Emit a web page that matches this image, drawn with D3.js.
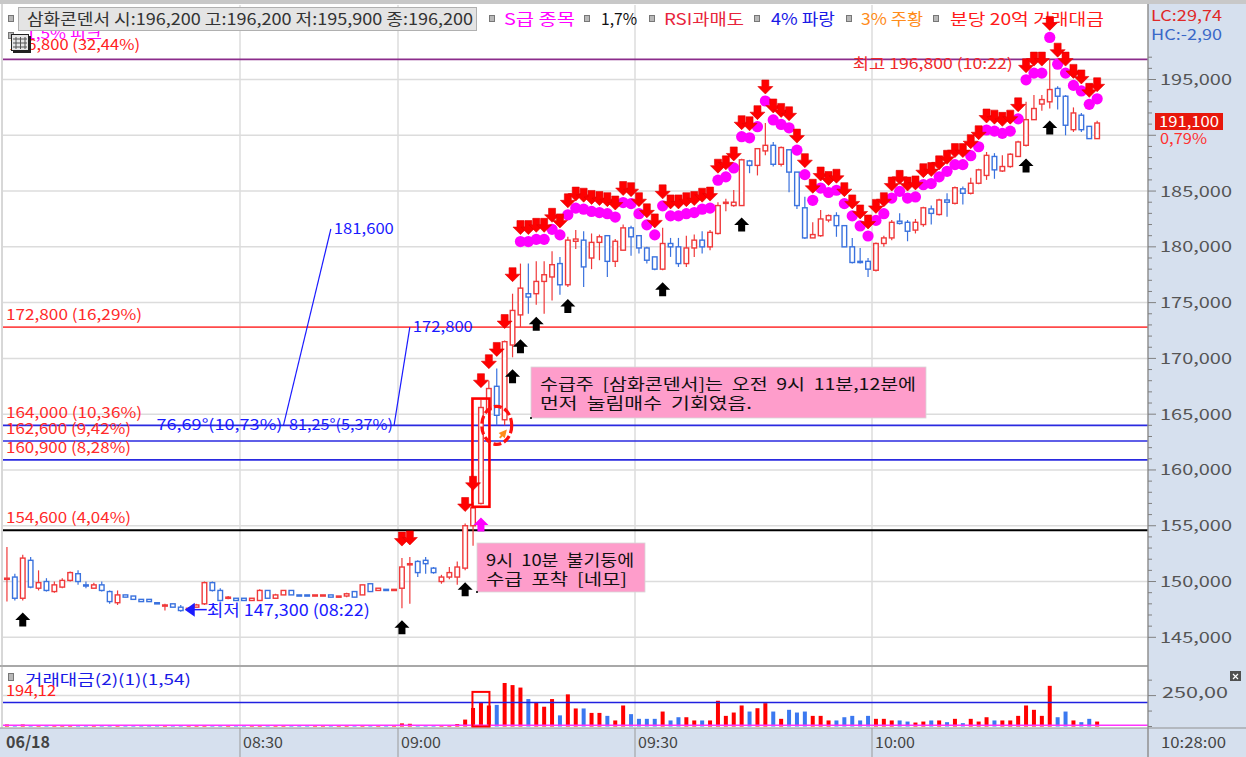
<!DOCTYPE html>
<html>
<head>
<meta charset="utf-8">
<script src="https://cdn.jsdelivr.net/npm/d3@7"></script>
<style>
body{margin:0;background:#fff;}
svg{display:block;font-family:"Noto Sans CJK KR","DejaVu Sans",sans-serif;}
text{white-space:pre;}
</style>
</head>
<body>
<svg id="chart" width="1246" height="757"></svg>
<script>
// 1 minute candles, pre-market 08:00-08:49 then 09:00-10:28  [open, high, low, close]
var preOHLC = [
  [150200,153100,148200,150300],[150400,150700,148300,148500],[148500,152400,148300,152100],[151900,152200,149400,149500],
  [149400,151000,149200,149900],[150000,150300,149100,149200],[149100,150000,149000,149700],[149500,150300,149400,150100],
  [150100,150900,150000,150800],[150700,151000,149700,150000],[149700,150000,149400,149600],[149400,149900,149400,149700],
  [149700,150000,149100,149200],[149100,149200,148000,148200],[148100,149200,147900,148800],[148800,148800,148600,148600],
  [148700,148700,148400,148400],[148400,148400,148200,148200],[148400,148400,148200,148200],[148100,148100,148000,148000],
  [147800,148000,147400,147900],[148000,148000,147700,147700],[147700,147900,147300,147400],[147500,147700,147400,147600],
  [147700,148000,147700,147900],[148000,150000,147900,149900],[149900,150000,149100,149200],[149200,149400,148200,148300],
  [148500,148700,148400,148600],[148500,148500,148300,148300],[148500,148500,148300,148300],[148300,148500,148300,148500],
  [148300,149300,148300,149200],[149200,149200,148500,148500],[148500,148900,148500,148800],[148800,149200,148800,149200],
  [149200,149200,148800,148800],[148800,148800,148700,148700],[148800,148800,148700,148700],[148700,148800,148700,148800],
  [148700,148800,148700,148800],[148800,148800,148600,148600],[148600,148700,148600,148700],[148700,149000,148600,148900],
  [149100,149100,148600,148600],[148800,149700,148800,149700],[149800,149800,149100,149100],[149200,149400,149200,149400],
  [149300,149300,149200,149200],[149200,149300,149200,149300]
];
var regOHLC = [
  [149400,152100,147600,151300],[151500,152200,148000,151600],[151800,151900,150400,150800],[151900,152200,150700,151600],
  [151200,151300,150700,150800],[150000,150600,149800,150400],[150400,151300,150200,150800],[150400,151800,149700,151300],
  [151200,155200,151000,155000],[155000,157100,153200,156600],[157000,166300,156900,165600],[165400,168000,164100,167300],
  [167500,169100,164000,164900],[164500,171600,164000,171500],[171200,175800,170100,174300],[173900,178500,172800,176300],
  [175800,178500,174000,175500],[175800,178700,174800,176900],[176900,178700,174000,177500],[177300,179600,175200,178400],
  [178500,179100,175700,176600],[176600,180900,176400,180600],[180500,181500,179800,180700],[180600,181400,176400,178200],
  [179000,181200,178000,180400],[180400,181100,178800,180900],[181000,181000,177300,178700],[178700,180700,178200,180500],
  [179700,182000,179700,181700],[181700,181900,179200,180900],[181000,181000,179400,179900],[179900,180000,178500,178800],
  [179100,179100,177900,178000],[178000,181700,177900,180300],[180300,180800,179100,180000],[180000,180800,178200,178500],
  [178500,181000,178200,179900],[179900,181100,179100,180600],[180600,181400,179400,180000],[180000,181500,179700,181300],
  [181200,184000,181100,183700],[183900,184300,183200,184000],[183700,185100,183600,184000],[183700,187900,183700,187800],
  [187700,187800,186600,187300],[187300,188800,186400,188800],[188600,191100,188200,189100],[189100,189400,187200,187400],
  [187400,189000,187200,188900],[188700,188700,184900,186700],[186700,186700,183400,183700],[183500,184500,180700,180800],
  [180800,182200,180800,181100],[181000,183300,180900,182500],[182400,182900,182200,182800],[182800,183100,180900,181900],
  [181900,181900,180000,180000],[180000,180800,178500,178600],[178700,179900,178500,178600],[178700,179000,177300,178000],
  [177900,180400,177800,180300],[180300,181000,180000,180800],[180800,182400,180600,182200],[182300,183000,182000,182100],
  [182200,182400,180500,181400],[181500,182500,181200,182200],[182000,183600,181800,183500],[183400,183700,182000,183000],
  [182900,184300,182800,184200],[184200,184800,182700,184000],[183900,185400,183800,185300],[185200,185400,183800,184800],
  [184800,186200,184700,185700],[185700,187000,185600,186900],[186400,188500,186000,188200],[188100,188400,186100,186900],
  [186800,188200,186700,187200],[187200,188400,187100,188300],[188100,189500,188100,189400],[189100,193000,189000,191400],
  [191400,193600,191400,192400],[192800,193600,192200,193200],[193000,196800,192400,194100],[194200,194400,192300,193500],
  [193500,193600,190000,190900],[190500,192500,190300,192000],[191800,192000,190300,190500],[190800,190800,189700,189700],
  [189700,191300,189700,191100]
];
// 거래대금 (억)
var preVol = [16,12,16,12,9,9,9,10,9,9,8,8,8,10,10,8,8,8,8,8,8,8,8,8,8,12,10,10,8,8,8,8,10,10,8,8,8,8,8,8,8,8,8,8,8,10,10,8,8,8];
var regVol = [25,22,8,8,8,10,12,20,56,150,190,170,175,352,335,315,222,190,160,222,90,260,146,146,110,110,
  86,49,170,100,62,62,62,121,49,75,75,49,49,49,208,86,113,170,121,148,189,121,62,135,113,121,86,86,49,49,75,86,49,86,
  62,62,49,49,40,32,40,49,49,35,62,27,62,40,75,49,49,49,86,170,135,86,329,75,121,49,35,62,40];

// signals
var buyTimes = ['08:02','09:00','09:08','09:14','09:15','09:17','09:21','09:33','09:43','10:19','10:22'];
var sellFrom = '09:08', sellExtra = ['09:00','09:01'];
var dotFrom = '09:15';
var peakTime = '09:10', orangeTime = '09:13';

// levels
var levelPrices = [172800,164000,162600,160900,154600];
var levelLabels = ['172,800 (16,29%)','164,000 (10,36%)','162,600 (9,42%)','160,900 (8,28%)','154,600 (4,04%)'];
var highPrice = 196800, highLabel = '최고 196,800 (10:22)';
var lowPrice = 147300, lowLabel = '최저 147,300 (08:22)', lowTime = '08:22';
var lastPrice = 191100, lastPct = '0,79%';
var volLine = 194.12;

// angle lines [startTime, startPrice, endTime, endPrice, angle text, end text]
var trendLines = [
  ['08:35',164000,'08:41',181600,'76,69°(10,73%)','181,600'],
  ['08:49',164000,'09:01',172800,'81,25°(5,37%)','172,800']
];
var legendLabels = ['S급 종목','1,7%','RSI과매도','4% 파랑','3% 주황','분당 20억 거래대금'];
var priceTicks = [145000,150000,155000,160000,165000,170000,175000,180000,185000,190000,195000];
var timeTicks = ['08:30','09:00','09:30','10:00'];

function minutes(from, to) {
  var out = [], a = from.split(':'), b = to.split(':'), f = d3.format('02d');
  for (var m = +a[0]*60 + +a[1]; m <= +b[0]*60 + +b[1]; m++) out.push(f(Math.floor(m/60)) + ':' + f(m%60));
  return out;
}

var slots = minutes('08:00','08:49').concat(minutes('09:00','10:34'));
var ohlc = preOHLC.concat(regOHLC), vol = preVol.concat(regVol);
var candles = ohlc.map(function(d,i){
  return {t:slots[i], o:d[0], h:d[1], l:d[2], c:d[3], v:vol[i], up:d[3]>=d[0]};
});
var byTime = {};
candles.forEach(function(d){ byTime[d.t] = d; });

var svg = d3.select('#chart');
var RED = '#f0393a', BLUE = '#3a72de';

var x = d3.scaleBand().domain(slots).range([3, 3 + slots.length*7.9]);
var xc = function(t){ return x(t) + x.bandwidth()/2; };
var y = d3.scaleLinear().domain([145000,195000]).range([637.3,79.5]);
var yv = d3.scaleLinear().domain([0,250]).range([726.5,695.6]);

// backgrounds and frames
svg.append('rect').attr('x',0).attr('y',0).attr('width',1246).attr('height',4).attr('fill','#c8c8c8');
svg.append('rect').attr('x',1148).attr('y',4).attr('width',98).attr('height',753).attr('fill','#d6e0ee');
svg.append('rect').attr('x',0).attr('y',728).attr('width',1246).attr('height',29).attr('fill','#d6e0ee');
svg.append('line').attr('x1',0).attr('x2',1148).attr('y1',666).attr('y2',666).attr('stroke','#a8a8a8').attr('stroke-width',2);
svg.append('line').attr('x1',0).attr('x2',1246).attr('y1',728).attr('y2',728).attr('stroke','#909090');
svg.append('line').attr('x1',2).attr('x2',2).attr('y1',4).attr('y2',728).attr('stroke','#b0b0b0');

// grid
var grid = svg.append('g').attr('stroke','#dcdcdc').attr('stroke-width',1.5);
priceTicks.forEach(function(p){
  grid.append('line').attr('x1',3).attr('x2',1148).attr('y1',y(p)).attr('y2',y(p));
});
grid.append('line').attr('x1',3).attr('x2',1148).attr('y1',yv(250)).attr('y2',yv(250));
timeTicks.forEach(function(t){
  grid.append('line').attr('x1',x(t)).attr('x2',x(t)).attr('y1',5).attr('y2',665);
  grid.append('line').attr('x1',x(t)).attr('x2',x(t)).attr('y1',667).attr('y2',727);
  svg.append('line').attr('x1',x(t)).attr('x2',x(t)).attr('y1',728).attr('y2',757).attr('stroke','#9a9a9a');
});

function label(str, xx, yy, color, size, w, anchor, weight) {
  var t = svg.append('text').attr('x',xx).attr('y',yy).text(str)
    .attr('font-size', size).attr('fill', color);
  if (w) t.attr('textLength', w).attr('lengthAdjust','spacingAndGlyphs');
  if (anchor) t.attr('text-anchor', anchor);
  if (weight) t.attr('font-weight', weight);
  return t;
}

// legend
label('1,5% 피크', 26, 39, '#ff00ff', 15, 76);
svg.append('rect').attr('x',18.5).attr('y',7.5).attr('width',458).attr('height',23).attr('fill','#e4e4e4').attr('stroke','#b0b0b0');
label('삼화콘덴서 시:196,200 고:196,200 저:195,900 종:196,200', 27, 25, '#333', 16, 446);
var legX = [504, 601, 664, 771, 861, 950], legW = [71, 36, 80, 64, 62, 154];
var legC = ['#ff00ff','#111','#e8243c','#1a1ae6','#ff8c1a','#ff1a1a'];
var markX = [8, 489, 584, 649, 754, 846, 933];
markX.forEach(function(m){
  svg.append('rect').attr('x',m+0.5).attr('y',15.5).attr('width',5).attr('height',6).attr('fill','#b8b8b8').attr('stroke','#777');
});
legendLabels.forEach(function(s,i){ label(s, legX[i], 25, legC[i], 16, legW[i]); });
label('LC:29,74', 1151, 21, '#e02828', 15, 71);
label('HC:-2,90', 1151, 40, '#3a68c8', 15, 71);
svg.append('rect').attr('x',8.5).attr('y',32.5).attr('width',5).attr('height',6).attr('fill','#b8b8b8').attr('stroke','#777');
label('196,800 (32,44%)', 9, 50, '#ff2020', 15, 131);
var ic = svg.append('g');
ic.append('rect').attr('x',13).attr('y',36).attr('width',18).attr('height',17).attr('fill','#222');
ic.append('rect').attr('x',11.5).attr('y',34.5).attr('width',17).attr('height',16).attr('fill','#e6e6e6').attr('stroke','#222');
[16,20.5,25].forEach(function(v){ ic.append('line').attr('x1',v).attr('x2',v).attr('y1',37).attr('y2',49).attr('stroke','#555'); });
[39,43,47].forEach(function(v){ ic.append('line').attr('x1',13).attr('x2',27).attr('y1',v).attr('y2',v).attr('stroke','#555'); });

// level lines
var levelStroke = ['#ff4a4a','#2a2ae0','#2a2ae0','#2a2ae0','#000'];
svg.append('line').attr('x1',3).attr('x2',1148).attr('y1',y(highPrice)).attr('y2',y(highPrice))
  .attr('stroke','#8b2c8b').attr('stroke-width',1.6);
levelPrices.forEach(function(p,i){
  svg.append('line').attr('x1',3).attr('x2',1148).attr('y1',y(p)).attr('y2',y(p))
    .attr('stroke',levelStroke[i]).attr('stroke-width', i==4 ? 2 : 1.6);
  label(levelLabels[i], 6, y(p)-7, '#ff2a2a', 15, levelLabels[i].length > 15 ? 136 : 125);
});
label(highLabel, xc('10:22')-37, y(highPrice)+10, '#ee2a2a', 15, 160, 'end');

// angle lines
trendLines.forEach(function(d,i){
  svg.append('line').attr('x1',xc(d[0])).attr('y1',y(d[1])).attr('x2',xc(d[2])).attr('y2',y(d[3]))
    .attr('stroke','#1a1aff').attr('stroke-width',1.2);
  label(d[4], xc(d[0])-1, y(d[1])+5, '#1a1aff', 15, i==0 ? 126 : 104, 'end');
  label(d[5], xc(d[2])+3, y(d[3])+5, '#1a1aff', 15, 60);
});

// candles
var cg = svg.append('g');
candles.forEach(function(d){
  var cx = xc(d.t), col = d.up ? RED : BLUE;
  cg.append('line').attr('x1',cx).attr('x2',cx).attr('y1',y(d.h)).attr('y2',y(d.l)).attr('stroke',col).attr('stroke-width',1.2);
  var top = y(Math.max(d.o,d.c)), hgt = Math.max(1.2, Math.abs(y(d.o)-y(d.c)));
  cg.append('rect').attr('x',cx-2.3).attr('y',top).attr('width',4.6).attr('height',hgt)
    .attr('fill','#fff').attr('stroke',col).attr('stroke-width',1.4);
});

// highlight box and circle
svg.append('rect').attr('x',xc(peakTime)-8.5).attr('y',y(166400)).attr('width',17).attr('height',y(156700)-y(166400))
  .attr('fill','none').attr('stroke','#ff0000').attr('stroke-width',2.6);
svg.append('ellipse').attr('cx',xc('09:12')).attr('cy',y(164000)).attr('rx',15).attr('ry',19)
  .attr('fill','none').attr('stroke','#ff1010').attr('stroke-width',3.2).attr('stroke-dasharray','8,3');

// markers
function downArrow(cx, cy) {
  return 'M'+(cx-3.5)+','+(cy-7)+'H'+(cx+3.5)+'V'+(cy-0.5)+'H'+(cx+7.5)+'L'+cx+','+(cy+7)+'L'+(cx-7.5)+','+(cy-0.5)+'H'+(cx-3.5)+'Z';
}
function upArrow(cx, cy) {
  return 'M'+cx+','+(cy-7)+'L'+(cx+7.5)+','+(cy+0.5)+'H'+(cx+3.5)+'V'+(cy+7)+'H'+(cx-3.5)+'V'+(cy+0.5)+'H'+(cx-7.5)+'Z';
}
var mg = svg.append('g');
var dotSet = {}, sellSet = {};
minutes(dotFrom,'10:28').forEach(function(t){ dotSet[t] = 1; });
minutes(sellFrom,'10:28').concat(sellExtra).forEach(function(t){ sellSet[t] = 1; });
candles.forEach(function(d){
  if (dotSet[d.t]) mg.append('circle').attr('cx',xc(d.t)).attr('cy',y(d.h)-22).attr('r',5.6).attr('fill','#ff00ff');
});
candles.forEach(function(d){
  if (sellSet[d.t]) mg.append('path').attr('d',downArrow(xc(d.t), y(d.h) - (dotSet[d.t] ? 36 : 19)))
    .attr('fill','#ff0000').attr('stroke','#e00000').attr('stroke-width',0.6);
});
buyTimes.forEach(function(t){
  var d = byTime[t];
  mg.append('path').attr('d',upArrow(xc(t), y(d.l)+19)).attr('fill','#000');
});
mg.append('path').attr('d',upArrow(xc(peakTime), y(byTime[peakTime].l)+20)).attr('fill','#ff00ff');
mg.append('path').attr('d','M0,-5L4,3H1V6H-1V3H-4Z').attr('fill','#ff8c1a')
  .attr('transform','translate('+(xc(orangeTime)-1)+','+(y(164000)+8)+') rotate(40)');

// low marker
var lx = xc(lowTime)+4, ly = y(lowPrice)-2;
svg.append('path').attr('d','M'+lx+','+ly+'L'+(lx+10)+','+(ly-7)+'V'+(ly+7)+'Z').attr('fill','#1a1aff');
svg.append('line').attr('x1',lx+9).attr('x2',lx+22).attr('y1',ly).attr('y2',ly).attr('stroke','#1a1aff').attr('stroke-width',1.5);
label(lowLabel, lx+22, ly+6, '#1a1aff', 16, 163);

// notes
function note(x0, y0, w, h, lines, widths) {
  svg.append('rect').attr('x',x0).attr('y',y0).attr('width',w).attr('height',h).attr('fill','#fe9dcb')
    .attr('stroke','#d8d8d8').attr('stroke-width',0.8);
  svg.append('rect').attr('x',x0-1).attr('y',y0+h-1).attr('width',2).attr('height',2).attr('fill','#333');
  lines.forEach(function(s,i){ label(s, x0+9, y0+23+i*19, '#111', 16, widths[i]); });
}
note(531, 367, 395, 51, ['수급주  [삼화콘덴서]는  오전  9시  11분,12분에','먼저  눌림매수  기회였음.'], [376, 212]);
note(477, 543, 168, 49, ['9시  10분  불기둥에','수급  포착  [네모]'], [148, 141]);

// volume panel
var vg = svg.append('g');
candles.forEach(function(d){
  vg.append('rect').attr('x',xc(d.t)-2).attr('y',yv(d.v)).attr('width',4).attr('height',yv(0)-yv(d.v))
    .attr('fill', d.up ? '#ff0000' : '#3b78f0');
});
svg.append('line').attr('x1',3).attr('x2',1148).attr('y1',yv(10)).attr('y2',yv(10)).attr('stroke','#ff33ff').attr('stroke-width',1.5);
svg.append('line').attr('x1',3).attr('x2',1148).attr('y1',yv(volLine)).attr('y2',yv(volLine)).attr('stroke','#2020e0').attr('stroke-width',1.6);
svg.append('rect').attr('x',xc(peakTime)-8.5).attr('y',yv(280)).attr('width',17).attr('height',yv(0)-yv(280))
  .attr('fill','none').attr('stroke','#ff0000').attr('stroke-width',2);
svg.append('rect').attr('x',8.5).attr('y',673.5).attr('width',5).attr('height',7).attr('fill','#b8b8b8').attr('stroke','#777');
label('거래대금(2)(1)(1,54)', 25, 685, '#1a1ae6', 15, 166);
label('194,12', 6, 696, '#ff2020', 15, 50);

// right axes
svg.append('line').attr('x1',1148).attr('x2',1148).attr('y1',4).attr('y2',757).attr('stroke','#909090').attr('stroke-width',1.5);
var ag = svg.append('g').attr('stroke','#808080');
d3.range(145000, 198000, 1000).forEach(function(p){
  var major = p % 5000 === 0;
  ag.append('line').attr('x1',1148).attr('x2',1148 + (major ? 8 : 4)).attr('y1',y(p)).attr('y2',y(p));
});
// the last price tag hides the tick label it covers
priceTicks.filter(function(p){ return Math.abs(y(p) - y(lastPrice)) > 22; })
  .forEach(function(p){ label(d3.format(',')(p), 1160, y(p)+5.5, '#555', 15, 72); });
[0,125,250,375].forEach(function(v){
  ag.append('line').attr('x1',1148).attr('x2',1148 + (v==250 ? 8 : 4)).attr('y1',yv(v)).attr('y2',yv(v));
});
label('250,00', 1162, yv(250)+2, '#555', 15, 66);
svg.append('rect').attr('x',1230).attr('y',671).attr('width',11).attr('height',10).attr('fill','#505050');
svg.append('path').attr('d','M1233,674L1238,679M1238,674L1233,679').attr('stroke','#fff').attr('stroke-width',1.2);

// last price
svg.append('rect').attr('x',1155).attr('y',y(lastPrice)-10).attr('width',68).attr('height',17).attr('fill','#e8180c');
label(d3.format(',')(lastPrice), 1159, y(lastPrice)+4, '#fff', 15, 60);
label(lastPct, 1160, y(lastPrice)+21, '#ff3030', 15, 47);

// time axis
label('06/18', 6, 748, '#444', 16, 44, null, 'bold');
timeTicks.forEach(function(t){ label(t, x(t)+3, 748, '#444', 15, 40); });
label('10:28:00', 1161, 748, '#444', 15, 65);
</script>
</body>
</html>
